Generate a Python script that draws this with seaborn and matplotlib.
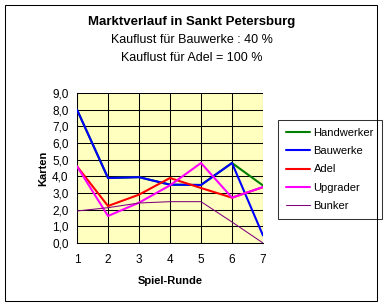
import matplotlib
matplotlib.use("Agg")
import matplotlib.pyplot as plt
import seaborn as sns
import pandas as pd
from matplotlib.patches import Rectangle

rounds = [1, 2, 3, 4, 5, 6, 7]
handwerker = [8.0, 3.9, 3.95, 3.5, 3.48, 4.8, 3.45]
bauwerke = [8.0, 3.9, 3.95, 3.5, 3.48, 4.8, 0.45]
adel = [4.6, 2.22, 2.9, 3.9, 3.3, 2.72, 3.35]
upgrader = [4.6, 1.62, 2.42, 3.46, 4.8, 2.72, 3.36]
bunker = [1.92, 2.12, 2.4, 2.48, 2.48, 1.26, 0.0]
series_names = ["Handwerker", "Bauwerke", "Adel", "Upgrader", "Bunker"]
y_ticks = [0, 1, 2, 3, 4, 5, 6, 7, 8, 9]
y_tick_labels = ["0,0", "1,0", "2,0", "3,0", "4,0", "5,0", "6,0", "7,0", "8,0", "9,0"]

colors = {"Handwerker": "#008000", "Bauwerke": "#0000FF", "Adel": "#FF0000",
          "Upgrader": "#FF00FF", "Bunker": "#800080"}
widths = {"Handwerker": 2.0, "Bauwerke": 2.0, "Adel": 2.0, "Upgrader": 2.0, "Bunker": 1.0}

values = [handwerker, bauwerke, adel, upgrader, bunker]
df = pd.concat([pd.DataFrame({"Spiel-Runde": rounds, "Karten": v, "Serie": n})
                for n, v in zip(series_names, values)], ignore_index=True)

sns.set_theme(style="white")
plt.rcParams["font.family"] = ["Liberation Sans", "DejaVu Sans"]

W, H = 384, 308
fig = plt.figure(figsize=(W / 100, H / 100), dpi=100)
fig.patch.set_facecolor("white")
x0, x1, y0, y1 = 77, 263, 93, 243
ax = fig.add_axes([x0 / W, 1 - y1 / H, (x1 - x0) / W, (y1 - y0) / H])
ax.set_facecolor("#FFFFC0")

for n in series_names:
    sub = df[df["Serie"] == n]
    sns.lineplot(data=sub, x="Spiel-Runde", y="Karten", ax=ax, color=colors[n],
                 linewidth=widths[n] * 0.75, label=n, zorder=3)

ax.set_xlim(1, 7)
ax.set_ylim(0, 9)
ax.set_xticks(rounds)
ax.set_xticklabels([str(r) for r in rounds], fontsize=8.5)
ax.set_yticks(y_ticks)
ax.set_yticklabels(y_tick_labels, fontsize=8.5)
ax.grid(True, color="black", linewidth=0.75, zorder=1)
ax.set_axisbelow(True)
for s in ["top", "right"]:
    ax.spines[s].set_visible(False)
for s in ["left", "bottom"]:
    ax.spines[s].set_color("black")
    ax.spines[s].set_linewidth(0.75)
ax.tick_params(axis="y", direction="out", length=4, width=0.75, color="black", pad=2, labelcolor="black")
ax.tick_params(axis="x", direction="inout", length=6, width=0.75, color="black", pad=5, labelcolor="black")
ax.set_xlabel("Spiel-Runde", fontsize=8, fontweight="bold", labelpad=7, color="black")
ax.set_ylabel("Karten", fontsize=8, fontweight="bold", labelpad=3, color="black")

leg = ax.legend(loc="upper left", bbox_to_anchor=((278 - x0) / (x1 - x0), 1 - (120 - y0) / (y1 - y0)),
                frameon=True, fancybox=False, fontsize=8, handlelength=2.2, handletextpad=0.3,
                labelspacing=0.75, borderpad=0.7, borderaxespad=0)
leg.get_frame().set_edgecolor("black")
leg.get_frame().set_linewidth(0.75)
leg.get_frame().set_facecolor("white")
for t in leg.get_texts():
    t.set_color("black")

fig.text(192 / W, 1 - 22 / H, "Marktverlauf in Sankt Petersburg", ha="center", va="center",
         fontsize=9.5, fontweight="bold", color="black")
fig.text(192 / W, 1 - 40 / H, "Kauflust für Bauwerke : 40 %", ha="center", va="center",
         fontsize=9, color="black")
fig.text(192 / W, 1 - 58 / H, "Kauflust für Adel = 100 %", ha="center", va="center",
         fontsize=9, color="black")

fig.patches.append(Rectangle((5 / W, 1 - 301 / H), 372 / W, 296 / H, transform=fig.transFigure,
                             fill=False, edgecolor="black", linewidth=0.75))

fig.savefig("out.png", dpi=100)
